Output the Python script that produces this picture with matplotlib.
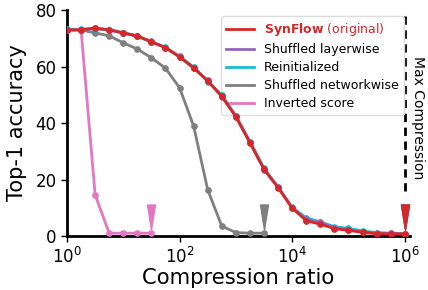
import numpy as np
import matplotlib
matplotlib.use("Agg")
import matplotlib.pyplot as plt
from matplotlib.path import Path

# compression ratios: 10^(k/4)
exp_full = [k / 4 for k in range(25)]

synflow = [72.9, 73.0, 73.6, 73.0, 71.9, 70.8, 68.8, 66.7, 63.4, 59.6, 54.9, 49.5,
           42.2, 33.0, 23.7, 17.1, 9.9, 5.4, 4.2, 2.6, 2.0, 1.3, 0.8, 0.8, 0.7]
layerwise = [73.0, 73.1, 73.5, 73.0, 71.9, 70.7, 68.9, 66.6, 63.5, 59.4, 55.1, 49.4,
             42.4, 33.3, 23.5, 17.3, 10.0, 5.9, 4.8, 3.0, 2.3, 1.5, 1.0, 0.9, 0.8]
reinit = [73.2, 73.2, 73.4, 73.1, 72.0, 70.9, 68.6, 66.9, 63.6, 59.8, 54.7, 49.8,
          42.6, 33.4, 24.0, 17.3, 10.2, 6.4, 5.0, 3.3, 2.7, 1.8, 1.2, 1.0, 0.8]
netwise = [73.0, 73.0, 71.9, 70.9, 68.4, 66.2, 63.1, 59.4, 52.5, 38.9, 16.4, 3.5,
           1.2, 1.0, 1.0]
inverted = [73.0, 73.0, 14.6, 1.0, 1.0, 1.0, 1.0]

labels = [r"$\bf{SynFlow}$ (original)", "Shuffled layerwise", "Reinitialized",
          "Shuffled networkwise", "Inverted score"]
colors = ["tab:red", "tab:purple", "tab:cyan", "tab:gray", "tab:pink"]
series = [synflow, layerwise, reinit, netwise, inverted]

x_ticks = [1, 1e2, 1e4, 1e6]
y_ticks = [0, 20, 40, 60, 80]
max_compression = 1e6
arrow_y = 6.8

fig = plt.figure(figsize=(4.28, 2.9), dpi=100)
ax = fig.add_axes([0.1565, 0.1862, 0.801, 0.779])

tri = Path([(-0.16, 0.5), (0.16, 0.5), (0.0, -0.5), (-0.16, 0.5)],
           [Path.MOVETO, Path.LINETO, Path.LINETO, Path.CLOSEPOLY])

handles = []
order = [4, 3, 2, 1, 0]
for i in order:
    vals = series[i]
    xs = [10 ** e for e in exp_full[:len(vals)]]
    h, = ax.plot(xs, vals, color=colors[i], lw=2.0, marker='o', ms=3.8,
                 zorder=3 + (5 - i), label=labels[i])
    handles.append((i, h))
    # arrow marking the last reached compression
    ax.plot([xs[-1]], [arrow_y], marker=tri, ms=18, color=colors[i],
            ls='none', zorder=10, clip_on=False)

handles = [h for i, h in sorted(handles)]

ax.axvline(max_compression, ymin=0.2, ymax=0.98, color='black', lw=2,
           ls=(0, (3, 2)), zorder=2)
ax.text(1.75e6, 42, "Max Compression", rotation=270, ha='center', va='center',
        fontsize=10, clip_on=False)

ax.set_xscale('log')
ax.set_xlim(1, 1.23e6)
ax.set_ylim(0, 80)
ax.set_xticks(x_ticks)
ax.set_yticks(y_ticks)
ax.minorticks_off()
ax.xaxis.set_minor_locator(matplotlib.ticker.NullLocator())
ax.tick_params(axis='both', labelsize=12, length=4, width=1, direction='out')
ax.set_xlabel("Compression ratio", fontsize=15.2, labelpad=1)
ax.set_ylabel("Top-1 accuracy", fontsize=15, labelpad=6)

for s in ['top', 'right']:
    ax.spines[s].set_visible(False)
for s in ['left', 'bottom']:
    ax.spines[s].set_linewidth(2)
    ax.spines[s].set_color('black')

leg = ax.legend(handles=handles, loc='upper right', fontsize=9,
                labelspacing=0.4, handlelength=2.2, framealpha=1,
                edgecolor='#dddddd', fancybox=True)
leg.get_texts()[0].set_color('tab:red')
for t in leg.get_lines():
    t.set_marker('')
    t.set_linewidth(2)

fig.savefig("out.png", dpi=100)
